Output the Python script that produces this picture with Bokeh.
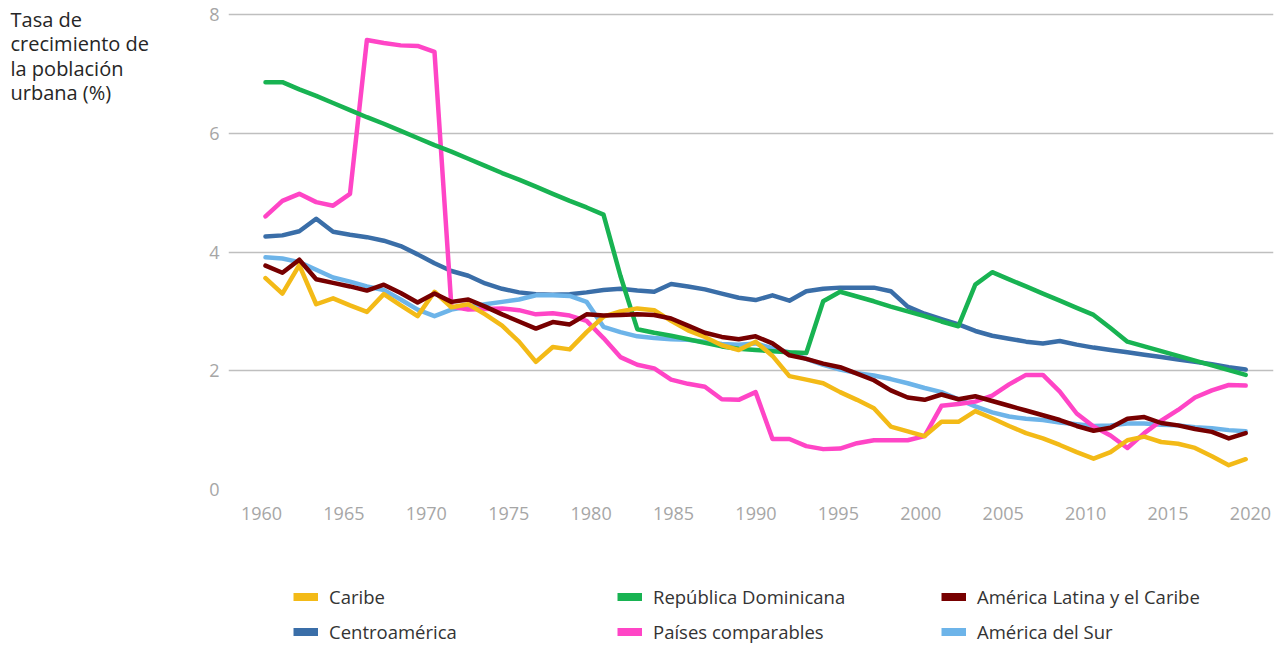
from bokeh.plotting import figure
from bokeh.models import Range1d, Legend, LegendItem, FixedTicker, Label
from bokeh.layouts import row, column
from bokeh.embed import file_html
from bokeh.resources import INLINE

# ---------------- data ----------------
years = list(range(1960, 2019))
caribe = [3.56, 3.30, 3.78, 3.12, 3.22, 3.10, 2.99, 3.29, 3.10, 2.92,
          3.33, 3.07, 3.12, 2.95, 2.76, 2.49, 2.15, 2.40, 2.36, 2.65,
          2.91, 3.00, 3.05, 3.02, 2.84, 2.68, 2.57, 2.43, 2.35, 2.49,
          2.25, 1.91, 1.85, 1.79, 1.64, 1.51, 1.37, 1.06, 0.98, 0.90,
          1.14, 1.14, 1.32, 1.20, 1.07, 0.95, 0.86, 0.75, 0.63, 0.52,
          0.63, 0.83, 0.89, 0.80, 0.77, 0.70, 0.56, 0.41, 0.51]
rep_dom = [6.86, 6.86, 6.74, 6.63, 6.51, 6.39, 6.27, 6.16, 6.04, 5.92,
           5.80, 5.69, 5.57, 5.45, 5.33, 5.22, 5.10, 4.98, 4.86, 4.75,
           4.63, 3.60, 2.70, 2.64, 2.59, 2.53, 2.47, 2.41, 2.37, 2.35,
           2.33, 2.31, 2.30, 3.17, 3.33, 3.25, 3.17, 3.08, 3.00, 2.92,
           2.83, 2.75, 3.45, 3.66, 3.54, 3.42, 3.30, 3.18, 3.06, 2.94,
           2.72, 2.49, 2.41, 2.33, 2.25, 2.17, 2.09, 2.01, 1.93]
alc = [3.77, 3.65, 3.87, 3.54, 3.48, 3.42, 3.35, 3.45, 3.31, 3.15,
       3.30, 3.16, 3.20, 3.08, 2.95, 2.83, 2.71, 2.82, 2.78, 2.95,
       2.93, 2.94, 2.95, 2.94, 2.88, 2.76, 2.64, 2.57, 2.53, 2.58,
       2.46, 2.26, 2.20, 2.12, 2.06, 1.95, 1.84, 1.67, 1.55, 1.51,
       1.60, 1.52, 1.57, 1.49, 1.41, 1.33, 1.25, 1.17, 1.07, 0.99,
       1.04, 1.19, 1.22, 1.12, 1.08, 1.02, 0.97, 0.86, 0.95]
centro = [4.26, 4.28, 4.35, 4.56, 4.34, 4.29, 4.25, 4.19, 4.10, 3.96,
          3.81, 3.68, 3.60, 3.47, 3.38, 3.32, 3.29, 3.28, 3.29, 3.32,
          3.36, 3.38, 3.35, 3.33, 3.46, 3.42, 3.37, 3.30, 3.23, 3.19,
          3.27, 3.18, 3.34, 3.38, 3.40, 3.40, 3.40, 3.34, 3.08, 2.96,
          2.87, 2.78, 2.67, 2.59, 2.54, 2.49, 2.46, 2.50, 2.44, 2.39,
          2.35, 2.31, 2.27, 2.23, 2.19, 2.15, 2.11, 2.06, 2.02]
comparables = [4.60, 4.86, 4.98, 4.84, 4.78, 4.98, 7.57, 7.52, 7.48, 7.47,
               7.37, 3.08, 3.03, 3.04, 3.05, 3.02, 2.95, 2.97, 2.93, 2.84,
               2.55, 2.23, 2.10, 2.04, 1.85, 1.78, 1.73, 1.52, 1.51, 1.64,
               0.85, 0.85, 0.73, 0.68, 0.69, 0.78, 0.83, 0.83, 0.83, 0.90,
               1.41, 1.44, 1.48, 1.58, 1.77, 1.93, 1.93, 1.65, 1.28, 1.06,
               0.91, 0.70, 0.95, 1.16, 1.34, 1.55, 1.67, 1.76, 1.75]
am_sur = [3.91, 3.89, 3.83, 3.70, 3.57, 3.50, 3.42, 3.36, 3.20, 3.03,
          2.92, 3.03, 3.08, 3.12, 3.16, 3.20, 3.27, 3.27, 3.26, 3.16,
          2.74, 2.65, 2.58, 2.55, 2.53, 2.52, 2.49, 2.45, 2.44, 2.46,
          2.38, 2.31, 2.20, 2.10, 2.02, 1.96, 1.92, 1.86, 1.79, 1.71,
          1.64, 1.52, 1.40, 1.30, 1.23, 1.19, 1.17, 1.13, 1.10, 1.07,
          1.08, 1.11, 1.11, 1.09, 1.08, 1.05, 1.03, 1.00, 0.98]

names = ["Caribe", "República Dominicana", "América Latina y el Caribe",
         "Centroamérica", "Países comparables", "América del Sur"]
colors = ["#F3BA17", "#18B352", "#770000", "#3A6EA8", "#FF45C6", "#6DB4E9"]
x_ticks = list(range(1960, 2021, 5))
y_ticks = [0, 2, 4, 6, 8]
title_lines = ["Tasa de", "crecimiento de", "la población", "urbana (%)"]

# ---------------- geometry ----------------
TOTAL_W = 1283
TITLE_W = 200               # column holding the y-axis title
MAIN_W, MAIN_H = TOTAL_W - TITLE_W, 540
LEG_H = 107                 # strip holding the legend
BL, BR, BT, BB = 28, 10, 0, 51
FRAME_W = MAIN_W - BL - BR
FRAME_H = MAIN_H - BT - BB
PX_PER_UNIT = 59.375        # 8 units over 475 px
Y_TOP = FRAME_H / PX_PER_UNIT
X0 = 1958.0
X1 = X0 + FRAME_W / 16.483
S0 = 1957.811
S1 = S0 + FRAME_W / 16.9

# ---------------- main chart ----------------
p = figure(width=MAIN_W, height=MAIN_H, output_backend="svg", toolbar_location=None,
           x_range=Range1d(X0, X1), y_range=Range1d(0, Y_TOP),
           min_border_left=BL, min_border_right=BR,
           min_border_top=BT, min_border_bottom=BB)
# series are drawn on their own category spacing (as in the original chart)
p.extra_x_ranges = {"series": Range1d(S0, S1)}

p.outline_line_color = None
p.xgrid.visible = False
p.ygrid.ticker = FixedTicker(ticks=y_ticks)
p.ygrid.grid_line_color = "#BFBFBF"
p.ygrid.grid_line_width = 1.4

for ax in (p.xaxis[0], p.yaxis[0]):
    ax.axis_line_color = None
    ax.major_tick_line_color = None
    ax.minor_tick_line_color = None
    ax.major_tick_out = 0
    ax.major_tick_in = 0
    ax.minor_tick_out = 0
    ax.minor_tick_in = 0
    ax.major_label_text_font = "Open Sans"
    ax.major_label_text_font_size = "18px"
    ax.major_label_text_color = "#A6A6A6"
p.xaxis[0].ticker = FixedTicker(ticks=x_ticks)
p.yaxis[0].ticker = FixedTicker(ticks=y_ticks)
p.xaxis[0].major_label_standoff = 17
p.yaxis[0].major_label_standoff = 9

series = {
    "Centroamérica": centro,
    "América del Sur": am_sur,
    "Países comparables": comparables,
    "República Dominicana": rep_dom,
    "Caribe": caribe,
    "América Latina y el Caribe": alc,
}
for name, vals in series.items():
    c = colors[names.index(name)]
    p.line(years, vals, x_range_name="series", line_color=c, line_width=4.5,
           line_join="round", line_cap="round")

# ---------------- y-axis title column ----------------
t = figure(width=TITLE_W, height=MAIN_H, output_backend="svg", toolbar_location=None,
           x_range=Range1d(0, TITLE_W), y_range=Range1d(FRAME_H, 0),
           x_axis_location=None, y_axis_location=None, min_border=0)
t.grid.visible = False
t.outline_line_color = None
for k, line in enumerate(title_lines):
    t.add_layout(Label(x=10, y=19 + 24.4 * k, text=line,
                       text_font="Open Sans", text_font_size="20px",
                       text_color="#262626", text_baseline="alphabetic",
                       text_align="left"))

# ---------------- legend strip ----------------
lg = figure(width=TOTAL_W, height=LEG_H, output_backend="svg", toolbar_location=None,
            x_range=Range1d(0, TOTAL_W), y_range=Range1d(LEG_H, 0),
            x_axis_location=None, y_axis_location=None, min_border=0)
lg.grid.visible = False
lg.outline_line_color = None
nan = float("nan")
swatch = {n: lg.line(x=[nan], y=[nan], line_color=c, line_width=8, line_cap="butt")
          for n, c in zip(names, colors)}

def make_legend(row_names, loc):
    return Legend(items=[LegendItem(label=n, renderers=[swatch[n]]) for n in row_names],
                  location=loc, orientation="horizontal",
                  glyph_width=25, glyph_height=25, label_standoff=11, label_width=224,
                  label_height=25, spacing=64, padding=0, margin=0,
                  border_line_color=None, background_fill_alpha=0,
                  label_text_font="Open Sans", label_text_font_size="18.5px",
                  label_text_color="#333333")

lg.add_layout(make_legend(names[:3], (293, 38)))
lg.add_layout(make_legend(names[3:], (293, 3)))

layout = column(row(t, p, spacing=0), lg, spacing=0)
open("out.html", "w").write(file_html(layout, INLINE))
